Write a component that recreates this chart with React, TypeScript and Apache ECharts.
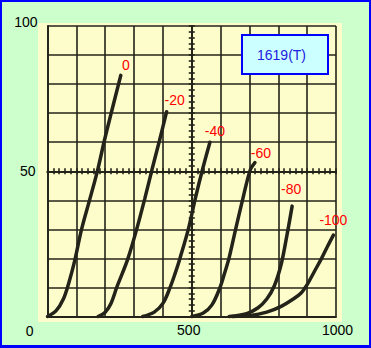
import React, { useEffect, useRef } from "react";
import * as echarts from "echarts";

// Grid voltages (series names) and plate-current curves [plate volts, plate mA]
const seriesNames = ["0", "-20", "-40", "-60", "-80", "-100"];
const curveG0 = [[0, 0], [30, 2], [55, 6], [75, 12], [95, 19.5], [118, 30], [147, 40.5], [174, 50.5], [197, 60.5], [222, 70.5], [254, 83]];
const curveG20 = [[175, 0], [200, 1.5], [220, 4.5], [240, 10], [260, 15], [279, 20], [309, 30], [337, 40.5], [362, 50.5], [388, 60.5], [413, 70.5]];
const curveG40 = [[330, 0], [370, 1.5], [400, 4.5], [425, 10], [443, 15], [459, 20], [488, 30], [512, 40.5], [537, 50.5], [563, 60]];
const curveG60 = [[500, 0], [540, 1.2], [570, 4], [598, 10], [614, 15], [629, 20], [652, 30], [677, 40.5], [703, 50.5], [719, 53]];
const curveG80 = [[630, 0], [690, 1], [730, 3], [760, 6], [786, 10.5], [810, 18], [830, 28], [848, 38]];
const curveG100 = [[640, 0], [700, 0.3], [760, 1.5], [810, 3.5], [852, 6], [880, 8.2], [900, 11], [925, 15.5], [950, 20], [970, 24], [991, 28]];
const curves = [curveG0, curveG20, curveG40, curveG60, curveG80, curveG100];

const xLabelValues = [500, 1000];
const yLabelValues = [0, 50, 100];
const titleText = "1619(T)";

const labelOffsets = [[5, -10], [8, -12], [5, -11], [6, -10], [-1, -17], [0, -15.5]];

const INK = "#23231a";
const FONT = "Liberation Sans, Arial, sans-serif";

export default function App() {
  const ref = useRef<HTMLDivElement>(null);
  useEffect(() => {
    if (!ref.current) return;
    const chart = echarts.init(ref.current, null, { renderer: "svg" });
    const gridLine = { color: INK, width: 1.6 };
    const option: any = {
      animation: false,
      backgroundColor: "#ccffcc",
      title: {
        text: titleText,
        left: 242,
        top: 35,
        padding: [13, 22, 12, 15],
        backgroundColor: "#ccffff",
        borderColor: "#0000ff",
        borderWidth: 2,
        textStyle: { color: "#2020e0", fontSize: 14, fontWeight: "normal", fontFamily: FONT },
      },
      graphic: [
        {
          type: "rect",
          z: -1,
          silent: true,
          shape: { x: 38, y: 23, width: 304, height: 299 },
          style: { fill: "#fdfdcc" },
        },
      ],
      grid: { left: 47.5, top: 26, right: 35, bottom: 31.5 },
      xAxis: [
        {
          type: "value",
          min: 0,
          max: 1000,
          interval: 500,
          axisLine: { show: true, onZero: false, lineStyle: { color: INK, width: 2 } },
          axisTick: { show: false },
          splitLine: { show: true, lineStyle: gridLine },
          minorTick: { show: false, splitNumber: 5 },
          minorSplitLine: { show: true, lineStyle: gridLine },
          axisLabel: {
            show: true,
            margin: 6,
            color: "#000",
            fontSize: 14,
            fontFamily: FONT,
            formatter: (v: number) =>
              xLabelValues.indexOf(v) < 0 ? "" : v === 500 ? "{a|" + v + "}" : "{b|" + v + "}",
            rich: {
              a: { fontSize: 14, fontFamily: FONT, color: "#000", padding: [0, 6, 0, 0] },
              b: { fontSize: 14, fontFamily: FONT, color: "#000", padding: [0, 0, 0, 3] },
            },
          },
        },
        {
          type: "value",
          min: 0,
          max: 1000,
          interval: 20,
          position: "bottom",
          axisLine: { show: true, onZero: true, onZeroAxisIndex: 1, lineStyle: { color: INK, width: 2 } },
          axisTick: { show: true, inside: true, length: 3, lineStyle: { color: INK, width: 1.6 } },
          axisLabel: { show: false },
          splitLine: { show: false },
        },
        {
          type: "value",
          min: 0,
          max: 1000,
          interval: 20,
          position: "bottom",
          axisLine: { show: true, onZero: true, onZeroAxisIndex: 1, lineStyle: { color: INK, width: 2 } },
          axisTick: { show: true, inside: false, length: 3, lineStyle: { color: INK, width: 1.6 } },
          axisLabel: { show: false },
          splitLine: { show: false },
        },
        { type: "value", min: -500, max: 500, show: false, axisLine: { onZero: false } },
      ],
      yAxis: [
        {
          type: "value",
          min: 0,
          max: 100,
          interval: 50,
          axisLine: { show: true, onZero: false, lineStyle: { color: INK, width: 1.8 } },
          axisTick: { show: false },
          splitLine: { show: true, lineStyle: gridLine },
          minorTick: { show: false, splitNumber: 5 },
          minorSplitLine: { show: true, lineStyle: gridLine },
          axisLabel: {
            show: true,
            margin: 10,
            color: "#000",
            fontSize: 14,
            fontFamily: FONT,
            formatter: (v: number) =>
              yLabelValues.indexOf(v) < 0 ? "" : v === 100 ? "{t|" + v + "}" : v === 0 ? "{z|" + v + "}" : "{m|" + v + "}",
            rich: {
              t: { fontSize: 14, fontFamily: FONT, color: "#000", padding: [0, 0, 9, 0] },
              m: { fontSize: 14, fontFamily: FONT, color: "#000", padding: [0, 2, 0, 0] },
              z: { fontSize: 14, fontFamily: FONT, color: "#000", padding: [29, 4, 0, 0] },
            },
          },
        },
        { type: "value", min: -50, max: 50, show: false, axisLine: { onZero: false } },
        {
          type: "value",
          min: 0,
          max: 100,
          interval: 2,
          position: "left",
          axisLine: { show: true, onZero: true, onZeroAxisIndex: 3, lineStyle: { color: INK, width: 2 } },
          axisTick: { show: true, inside: true, length: 3, lineStyle: { color: INK, width: 1.6 } },
          axisLabel: { show: false },
          splitLine: { show: false },
        },
        {
          type: "value",
          min: 0,
          max: 100,
          interval: 2,
          position: "left",
          axisLine: { show: true, onZero: true, onZeroAxisIndex: 3, lineStyle: { color: INK, width: 2 } },
          axisTick: { show: true, inside: false, length: 3, lineStyle: { color: INK, width: 1.6 } },
          axisLabel: { show: false },
          splitLine: { show: false },
        },
      ],
      series: curves.map((data, i) => ({
        name: seriesNames[i],
        type: "line",
        xAxisIndex: 0,
        yAxisIndex: 0,
        data,
        smooth: 0.35,
        showSymbol: false,
        clip: false,
        z: 5,
        lineStyle: { color: INK, width: 3.5, cap: "round" },
        markPoint: {
          symbol: "circle",
          symbolSize: 1,
          itemStyle: { color: "rgba(0,0,0,0)" },
          data: [{ type: "max" }],
          label: {
            show: true,
            position: "inside",
            formatter: seriesNames[i],
            offset: labelOffsets[i],
            color: "#ff0000",
            fontSize: 14,
            fontFamily: FONT,
          },
        },
      })),
    };
    chart.setOption(option);
    return () => chart.dispose();
  }, []);

  return (
    <div style={{ position: "absolute", left: 0, top: 0, width: 371, height: 348 }}>
      <div ref={ref} style={{ position: "absolute", left: 0, top: 0, width: 371, height: 348 }} />
      <div
        style={{
          position: "absolute",
          left: 0,
          top: 0,
          width: 371,
          height: 348,
          boxSizing: "border-box",
          borderStyle: "solid",
          borderColor: "#0000ff",
          borderWidth: "2px 2px 3px 2px",
          pointerEvents: "none",
        }}
      />
    </div>
  );
}
